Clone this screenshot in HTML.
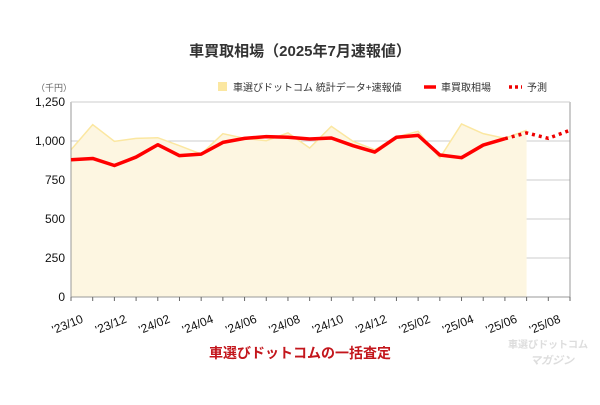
<!DOCTYPE html>
<html><head><meta charset="utf-8"><style>
body{margin:0;width:600px;height:400px;background:#fff;font-family:"Liberation Sans","Noto Sans CJK JP",sans-serif;overflow:hidden}
</style></head><body>
<svg width="600" height="400" id="svg">
<text x="300" y="56" text-anchor="middle" font-size="15" font-weight="bold" fill="#333">車買取相場（2025年7月速報値）</text>
<text x="36" y="91" font-size="9" fill="#666">（千円）</text>
<g font-size="10" fill="#333">
<rect x="218" y="82" width="9" height="9" fill="#fbe7a1"/>
<text x="233" y="91">車選びドットコム 統計データ+速報値</text>
<line x1="424" y1="87" x2="436" y2="87" stroke="#f00" stroke-width="3.5"/>
<text x="441" y="91">車買取相場</text>
<line x1="509" y1="87" x2="522" y2="87" stroke="#e00" stroke-width="3.5" stroke-dasharray="3,3"/>
<text x="527" y="91">予測</text>
</g>
<g id="plot"></g>
<text x="300" y="358" text-anchor="middle" font-size="14" font-weight="bold" fill="#c3161c">車選びドットコムの一括査定</text>
<text x="548" y="348" text-anchor="middle" font-size="10" font-weight="bold" fill="#ddd">車選びドットコム</text>
<text x="552" y="364" text-anchor="middle" font-size="11" font-weight="bold" font-style="italic" fill="#ddd">マガジン</text>
</svg>
<script>
const statsValues=[944,1105,998,1017,1021,970,916,1047,1017,1002,1052,955,1094,998,944,1026,1062,891,1109,1047,1017,1069];
const priceValues=[880,888,843,897,976,906,916,991,1017,1028,1024,1013,1019,970,929,1024,1036,910,893,974,1015];
const forecastValues=[1015,1052,1017,1069];
const forecastStart=20;
const tickLabels=["'23/10","'23/12","'24/02","'24/04","'24/06","'24/08","'24/10","'24/12","'25/02","'25/04","'25/06","'25/08"];
const yTicks=[0,250,500,750,1000,1250];
const nCats=24;
const PL=71,PR=570,PT=102,PB=297,yMax=1250;
const xs=i=>PL+i*(PR-PL)/(nCats-1);
const ys=v=>PB-(v/yMax)*(PB-PT);
const plotG=document.getElementById('plot');
const NS='http://www.w3.org/2000/svg';
function mk(tag,attrs){const e=document.createElementNS(NS,tag);for(const k in attrs)e.setAttribute(k,attrs[k]);plotG.appendChild(e);return e;}
yTicks.forEach(v=>{
 const l=mk('line',{x1:PL,x2:PR,y1:ys(v),y2:ys(v),stroke:'#ccc','stroke-width':1});
 
 
 const t=mk('text',{x:PL-6,y:ys(v)+4,'text-anchor':'end','font-size':12,fill:'#111'});
 t.textContent=v.toLocaleString('en-US');
 
 
});
let d='M'+xs(0)+','+ys(0);
statsValues.forEach((v,i)=>{d+=' L'+xs(i)+','+ys(v);});
d+=' L'+xs(statsValues.length-1)+','+ys(0)+' Z';
const area=mk('path',{d:d,fill:'#fdf6e1',stroke:'none'});


const sl=mk('polyline',{points:statsValues.map((v,i)=>xs(i)+','+ys(v)).join(' '),fill:'none',stroke:'#fbe7a1','stroke-width':1.5});


const ax=mk('path',{d:`M${PL},${PT} L${PL},${PB} L${PR},${PB} L${PR},${PT}`,fill:'none',stroke:'#999','stroke-width':1});


const topBorder=mk('line',{x1:PL,x2:PR,y1:PT,y2:PT,stroke:'#ccc'});


for(let i=0;i<nCats;i++){
 const tk=mk('line',{x1:xs(i),x2:xs(i),y1:PB,y2:PB+4,stroke:'#666'});
 
 
}
tickLabels.forEach((s,j)=>{
 const x=xs(j*2),y=PB+25;
 const t=mk('text',{x:x+13,y:y,'text-anchor':'end','font-size':12,fill:'#111',transform:`rotate(-22 ${x+13} ${y})`});
 t.textContent=s;
 
 
});
const pl=mk('polyline',{points:priceValues.map((v,i)=>xs(i)+','+ys(v)).join(' '),fill:'none',stroke:'#f00','stroke-width':3.5,'stroke-linejoin':'round'});


const fl=mk('polyline',{points:forecastValues.map((v,i)=>xs(forecastStart+i)+','+ys(v)).join(' '),fill:'none',stroke:'#e00','stroke-width':3.5,'stroke-dasharray':'3,4'});


</script>
</body></html>
